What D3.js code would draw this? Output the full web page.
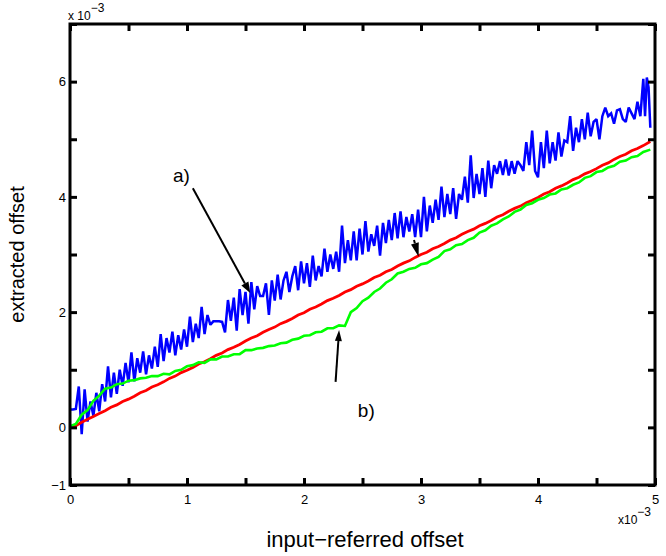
<!DOCTYPE html>
<html>
<head>
<meta charset="utf-8">
<script src="https://cdn.jsdelivr.net/npm/d3@7/dist/d3.min.js"></script>
<style>
  html, body { margin: 0; padding: 0; background: #fff; }
  svg { display: block; font-family: "Liberation Sans", Arial, Helvetica, sans-serif; }
</style>
</head>
<body>
<svg id="chart" width="666" height="556"></svg>
<script>
// Input-referred offset sweep (x 10^-3) for the noisy estimate, curve a)
const sweepA = [
  0, 0.025, 0.05, 0.075, 0.1, 0.125, 0.15, 0.175, 0.2, 0.225,
  0.25, 0.275, 0.3, 0.325, 0.35, 0.375, 0.4, 0.425, 0.45, 0.475,
  0.5, 0.525, 0.55, 0.575, 0.6, 0.625, 0.65, 0.675, 0.7, 0.725,
  0.75, 0.775, 0.8, 0.825, 0.85, 0.875, 0.9, 0.925, 0.95, 0.975,
  1.0, 1.025, 1.05, 1.075, 1.1, 1.125, 1.15, 1.175, 1.2, 1.225,
  1.25, 1.275, 1.3, 1.325, 1.35, 1.375, 1.4, 1.425, 1.45, 1.475,
  1.5, 1.525, 1.55, 1.575, 1.6, 1.625, 1.65, 1.675, 1.7, 1.725,
  1.75, 1.775, 1.8, 1.825, 1.85, 1.875, 1.9, 1.925, 1.95, 1.975,
  2.0, 2.025, 2.05, 2.075, 2.1, 2.125, 2.15, 2.175, 2.2, 2.225,
  2.25, 2.275, 2.3, 2.325, 2.35, 2.375, 2.4, 2.425, 2.45, 2.475,
  2.5, 2.525, 2.55, 2.575, 2.6, 2.625, 2.65, 2.675, 2.7, 2.725,
  2.75, 2.775, 2.8, 2.825, 2.85, 2.875, 2.9, 2.925, 2.95, 2.975,
  3.0, 3.025, 3.05, 3.075, 3.1, 3.125, 3.15, 3.175, 3.2, 3.225,
  3.25, 3.275, 3.3, 3.325, 3.35, 3.375, 3.4, 3.425, 3.45, 3.475,
  3.5, 3.525, 3.55, 3.575, 3.6, 3.625, 3.65, 3.675, 3.7, 3.725,
  3.75, 3.775, 3.8, 3.825, 3.85, 3.875, 3.9, 3.925, 3.95, 3.975,
  4.0, 4.025, 4.05, 4.075, 4.1, 4.125, 4.15, 4.175, 4.2, 4.225,
  4.25, 4.275, 4.3, 4.325, 4.35, 4.375, 4.4, 4.425, 4.45, 4.475,
  4.5, 4.525, 4.55, 4.575, 4.6, 4.625, 4.65, 4.675, 4.7, 4.725,
  4.75, 4.775, 4.8, 4.825, 4.85, 4.875, 4.9, 4.915, 4.93, 4.945,
  4.96
];
// Extracted offset (x 10^-3), curve a)
const extractedA = [
  0.31, 0.31, 0.32, 0.71, -0.12, 0.66, 0.10, 0.45, 0.20, 0.60,
  0.28, 0.75, 0.45, 1.06, 0.52, 0.95, 0.58, 1.00, 0.72, 1.12,
  0.78, 1.30, 0.80, 1.20, 0.95, 1.32, 0.92, 1.25, 1.02, 1.40,
  1.05, 1.62, 1.15, 1.55, 1.30, 1.66, 1.25, 1.60, 1.35, 1.70,
  1.40, 1.92, 1.48, 1.80, 1.55, 2.09, 1.62, 1.95, 1.78, 1.84,
  1.84, 1.84, 1.83, 1.65, 2.21, 1.85, 2.25, 1.68, 2.40, 1.95,
  2.35, 1.80, 2.52, 2.05, 2.45, 2.28, 2.28, 2.50, 1.95, 2.55,
  2.20, 2.65, 2.22, 2.55, 2.70, 2.35, 2.62, 2.80, 2.38, 2.88,
  2.50, 2.85, 2.44, 2.98, 2.55, 2.80, 2.62, 3.10, 2.70, 3.00,
  2.75, 3.05, 2.70, 3.50, 2.85, 3.25, 2.90, 3.40, 2.90, 3.45,
  3.00, 3.58, 3.05, 3.35, 3.15, 3.50, 2.98, 3.55, 3.20, 3.60,
  3.25, 3.72, 3.28, 3.75, 3.30, 3.65, 3.40, 3.70, 3.30, 3.78,
  3.30, 4.00, 3.40, 3.85, 3.55, 3.95, 3.60, 4.18, 3.65, 4.05,
  3.70, 4.15, 3.62, 4.05, 3.95, 4.35, 3.90, 4.72, 3.98, 4.40,
  4.05, 4.50, 4.00, 4.63, 4.15, 4.55, 4.40, 4.62, 4.38, 4.65,
  4.37, 4.62, 4.40, 4.62, 4.55, 4.45, 4.95, 4.55, 5.15, 4.45,
  4.34, 4.95, 4.50, 5.15, 4.58, 4.95, 4.63, 5.12, 4.70, 4.98,
  4.95, 5.40, 4.80, 5.20, 4.95, 5.35, 5.00, 5.46, 5.05, 5.30,
  5.35, 5.00, 5.40, 5.55, 5.40, 5.45, 5.27, 5.50, 5.52, 5.35,
  5.30, 5.55, 5.45, 5.35, 5.65, 5.40, 6.05, 5.40, 6.07, 5.90,
  5.20
];

// Sweep for the two smooth curves (x 10^-3)
const sweep = [
  0, 0.05, 0.1, 0.15, 0.2, 0.25, 0.3, 0.35, 0.4, 0.45,
  0.5, 0.55, 0.6, 0.65, 0.7, 0.75, 0.8, 0.85, 0.9, 0.95,
  1.0, 1.05, 1.1, 1.15, 1.2, 1.25, 1.3, 1.35, 1.4, 1.45,
  1.5, 1.55, 1.6, 1.65, 1.7, 1.75, 1.8, 1.85, 1.9, 1.95,
  2.0, 2.05, 2.1, 2.15, 2.2, 2.25, 2.3, 2.35, 2.4, 2.45,
  2.5, 2.55, 2.6, 2.65, 2.7, 2.75, 2.8, 2.85, 2.9, 2.95,
  3.0, 3.05, 3.1, 3.15, 3.2, 3.25, 3.3, 3.35, 3.4, 3.45,
  3.5, 3.55, 3.6, 3.65, 3.7, 3.75, 3.8, 3.85, 3.9, 3.95,
  4.0, 4.05, 4.1, 4.15, 4.2, 4.25, 4.3, 4.35, 4.4, 4.45,
  4.5, 4.55, 4.6, 4.65, 4.7, 4.75, 4.8, 4.85, 4.9, 4.96
];
// Ideal-tracking extraction (red)
const extractedIdeal = [
  0.00, 0.03, 0.09, 0.14, 0.19, 0.24, 0.29, 0.35, 0.39, 0.45,
  0.49, 0.54, 0.60, 0.64, 0.70, 0.74, 0.79, 0.85, 0.89, 0.95,
  0.99, 1.04, 1.10, 1.14, 1.19, 1.25, 1.29, 1.35, 1.39, 1.44,
  1.50, 1.55, 1.59, 1.65, 1.70, 1.74, 1.80, 1.84, 1.89, 1.95,
  1.99, 2.05, 2.09, 2.14, 2.20, 2.24, 2.29, 2.35, 2.39, 2.45,
  2.49, 2.54, 2.60, 2.64, 2.70, 2.74, 2.80, 2.85, 2.89, 2.95,
  3.00, 3.04, 3.10, 3.14, 3.19, 3.25, 3.29, 3.35, 3.40, 3.44,
  3.50, 3.54, 3.59, 3.65, 3.69, 3.75, 3.80, 3.84, 3.90, 3.94,
  3.99, 4.05, 4.09, 4.15, 4.19, 4.24, 4.30, 4.34, 4.40, 4.44,
  4.49, 4.55, 4.59, 4.65, 4.70, 4.74, 4.80, 4.84, 4.89, 4.96
];
// Extraction with the settling step near 2.4e-3, curve b) (green)
const extractedB = [
  0.02, 0.06, 0.22, 0.30, 0.46, 0.55, 0.67, 0.69, 0.75, 0.76,
  0.81, 0.82, 0.85, 0.86, 0.89, 0.89, 0.93, 0.92, 0.98, 1.00,
  1.06, 1.08, 1.13, 1.12, 1.18, 1.18, 1.23, 1.23, 1.27, 1.27,
  1.34, 1.34, 1.37, 1.38, 1.41, 1.42, 1.46, 1.47, 1.52, 1.54,
  1.59, 1.60, 1.65, 1.66, 1.72, 1.72, 1.77, 1.76, 2.00, 2.07,
  2.19, 2.25, 2.35, 2.41, 2.51, 2.57, 2.67, 2.70, 2.75, 2.77,
  2.83, 2.85, 2.91, 2.96, 3.06, 3.09, 3.16, 3.18, 3.25, 3.29,
  3.38, 3.42, 3.50, 3.54, 3.61, 3.66, 3.74, 3.78, 3.86, 3.89,
  3.95, 3.98, 4.04, 4.06, 4.13, 4.15, 4.21, 4.25, 4.33, 4.36,
  4.43, 4.45, 4.51, 4.54, 4.61, 4.63, 4.69, 4.71, 4.78, 4.82
];

const xTicks = [0, 0.5, 1, 1.5, 2, 2.5, 3, 3.5, 4, 4.5, 5];
const xTickLabels = ["0", "", "1", "", "2", "", "3", "", "4", "", "5"];
const yTicks = [-1, 0, 1, 2, 3, 4, 5, 6, 7];
const yTickLabels = ["\u22121", "0", "", "2", "", "4", "", "6", ""];

const svg = d3.select("#chart");
const plotL = 70, plotR = 655, plotT = 24, plotB = 485;

const x = d3.scaleLinear().domain([0, 5]).range([plotL, plotR]);
const y = d3.scaleLinear().domain([-1, 7]).range([plotB, plotT]);

// Curves
const line = (xs) => d3.line().x((d, i) => x(xs[i])).y(d => y(d));
const curves = [
  { xs: sweepA, ys: extractedA, color: "#0000ff", w: 2.5 },
  { xs: sweep, ys: extractedIdeal, color: "#ff0000", w: 2.8 },
  { xs: sweep, ys: extractedB, color: "#00ff00", w: 2.6 }
];
svg.append("g").selectAll("path").data(curves).join("path")
  .attr("d", c => line(c.xs)(c.ys))
  .attr("fill", "none")
  .attr("stroke", c => c.color)
  .attr("stroke-width", c => c.w)
  .attr("stroke-linejoin", "miter")
  .attr("stroke-miterlimit", 2);

// Axes: inward ticks on all four sides, labels on bottom and left
function styleAxis(g) {
  g.select(".domain").remove();
  g.selectAll(".tick line").attr("stroke", "#000").attr("stroke-width", 3);
  g.selectAll(".tick text").attr("fill", "#000").attr("font-size", 13)
    .attr("font-family", "'Liberation Sans', Arial, sans-serif");
}
svg.append("g").attr("transform", `translate(0,${plotB})`)
  .call(d3.axisBottom(x).tickValues(xTicks).tickSizeInner(-7).tickSizeOuter(0).tickPadding(10)
    .tickFormat((d, i) => xTickLabels[i]))
  .call(styleAxis);
svg.append("g").attr("transform", `translate(0,${plotT})`)
  .call(d3.axisTop(x).tickValues(xTicks).tickSizeInner(-7).tickSizeOuter(0).tickFormat(""))
  .call(styleAxis);
svg.append("g").attr("transform", `translate(${plotL},0)`)
  .call(d3.axisLeft(y).tickValues(yTicks).tickSizeInner(-7).tickSizeOuter(0).tickPadding(4)
    .tickFormat((d, i) => yTickLabels[i]))
  .call(styleAxis);
svg.append("g").attr("transform", `translate(${plotR},0)`)
  .call(d3.axisRight(y).tickValues(yTicks).tickSizeInner(-7).tickSizeOuter(0).tickFormat(""))
  .call(styleAxis);

// Frame
svg.append("rect")
  .attr("x", plotL).attr("y", plotT)
  .attr("width", plotR - plotL).attr("height", plotB - plotT)
  .attr("fill", "none").attr("stroke", "#000").attr("stroke-width", 3);

// Exponent labels
function exponent(tx, ty, base) {
  const t = svg.append("text").attr("x", tx).attr("y", ty)
    .attr("font-size", 12).attr("fill", "#000");
  t.append("tspan").text(base);
  t.append("tspan").attr("dy", -8).attr("font-size", 12).text("\u22123");
}
exponent(plotL - 2, 20, "x 10");
exponent(618, 524, "x10");

// Axis titles
svg.append("text").attr("x", 365).attr("y", 547)
  .attr("text-anchor", "middle").attr("font-size", 22).attr("fill", "#000")
  .text("input\u2212referred offset");
svg.append("text")
  .attr("transform", `translate(24,${(plotT + plotB) / 2}) rotate(-90)`)
  .attr("text-anchor", "middle").attr("font-size", 20).attr("fill", "#000")
  .text("extracted offset");

// Annotation arrows, placed in data units
function arrow(x1, y1, x2, y2, len, half) {
  const px1 = x(x1), py1 = y(y1), px2 = x(x2), py2 = y(y2);
  const a = Math.atan2(py2 - py1, px2 - px1);
  const bx = px2 - len * Math.cos(a), by = py2 - len * Math.sin(a);
  if (Math.hypot(px2 - px1, py2 - py1) > len) {
    svg.append("line").attr("x1", px1).attr("y1", py1).attr("x2", bx).attr("y2", by)
      .attr("stroke", "#000").attr("stroke-width", 2);
  }
  const nx = -Math.sin(a) * half, ny = Math.cos(a) * half;
  svg.append("path")
    .attr("d", `M${px2},${py2}L${bx + nx},${by + ny}L${bx - nx},${by - ny}Z`)
    .attr("fill", "#000");
}
arrow(1.05, 4.15, 1.54, 2.33, 11, 4);
arrow(2.27, 0.79, 2.30, 1.69, 11, 3.5);
arrow(2.94, 3.25, 2.98, 2.96, 14, 4);

svg.append("text").attr("x", x(0.88)).attr("y", y(4.26))
  .attr("font-size", 19).attr("fill", "#000").text("a)");
svg.append("text").attr("x", x(2.46)).attr("y", y(0.18))
  .attr("font-size", 19).attr("fill", "#000").text("b)");
</script>
</body>
</html>
